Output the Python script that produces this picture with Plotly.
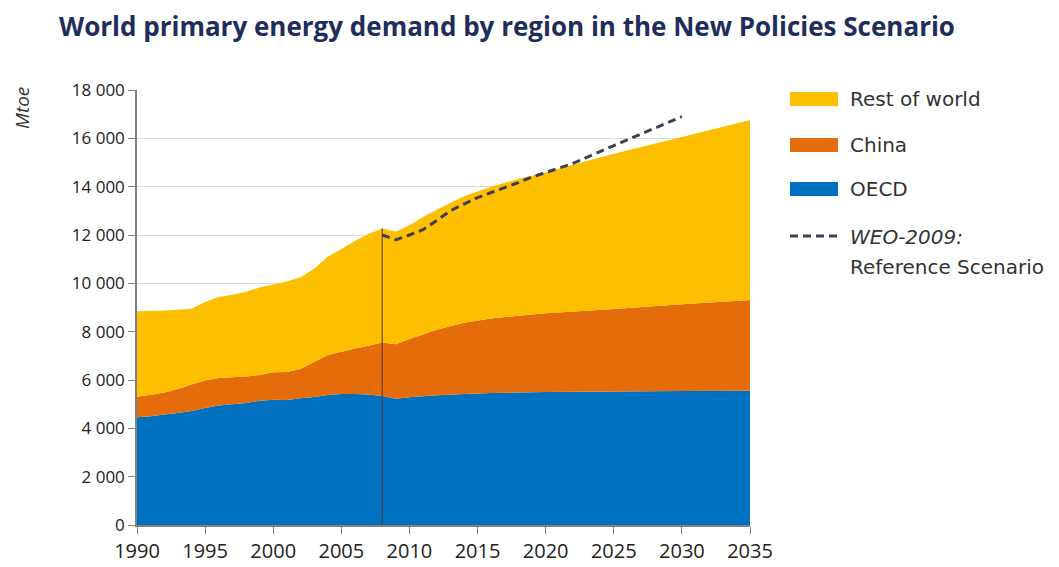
import plotly.graph_objects as go

# ---- data (Mtoe) ----
years = [1990, 1991, 1992, 1993, 1994, 1995, 1996, 1997, 1998, 1999,
         2000, 2001, 2002, 2003, 2004, 2005, 2006, 2007, 2008, 2009,
         2010, 2011, 2012, 2014, 2016, 2018, 2020, 2025, 2030, 2035]
oecd = [4460, 4500, 4570, 4630, 4720, 4840, 4950, 5000, 5050, 5140,
        5180, 5170, 5240, 5300, 5380, 5420, 5420, 5400, 5340, 5220,
        5290, 5330, 5370, 5420, 5460, 5480, 5500, 5520, 5540, 5560]
china = [850, 890, 910, 1000, 1090, 1140, 1130, 1110, 1090, 1070,
         1140, 1160, 1220, 1450, 1650, 1750, 1880, 2020, 2210, 2260,
         2410, 2550, 2710, 2950, 3090, 3180, 3260, 3420, 3590, 3750]
rest_of_world = [3540, 3470, 3400, 3280, 3140, 3250, 3350, 3420, 3510, 3620,
                 3630, 3750, 3790, 3850, 4070, 4250, 4450, 4630, 4720, 4670,
                 4700, 4870, 4970, 5230, 5450, 5660, 5840, 6420, 6930, 7450]

weo_years = [2008, 2009, 2010, 2011, 2012, 2013, 2014, 2015, 2016, 2017,
             2018, 2019, 2020, 2022, 2025, 2030]
weo_2009 = [12000, 11800, 12000, 12220, 12600, 13000, 13280, 13550, 13760, 13950,
            14170, 14400, 14580, 14960, 15700, 16900]

y_ticks = [0, 2000, 4000, 6000, 8000, 10000, 12000, 14000, 16000, 18000]
y_tick_labels = ["0", "2 000", "4 000", "6 000", "8 000", "10 000",
                 "12 000", "14 000", "16 000", "18 000"]
x_ticks = [1990, 1995, 2000, 2005, 2010, 2015, 2020, 2025, 2030, 2035]

C_ROW = "#FDBF00"
C_CHINA = "#E46C0A"
C_OECD = "#0070C0"
C_DASH = "#3F3F55"
FONT = "Open Sans"
LEG_FONT = "DejaVu Sans"

# page layout (page has an 8px body margin)
OFF = 8
W, H = 1059 - OFF, 567 - OFF
PL, PR, PT, PB = 137, 750, 90, 525   # plot area in page pixels


def px(x):  # page x -> paper x
    return (x - PL) / (PR - PL)


def py(y):  # page y -> paper y
    return (PB - y) / (PB - PT)


fig = go.Figure()
fig.add_trace(go.Scatter(x=years, y=oecd, name="OECD", stackgroup="one",
                         mode="none", fillcolor=C_OECD))
fig.add_trace(go.Scatter(x=years, y=china, name="China", stackgroup="one",
                         mode="none", fillcolor=C_CHINA))
fig.add_trace(go.Scatter(x=years, y=rest_of_world, name="Rest of world",
                         stackgroup="one", mode="none", fillcolor=C_ROW))
fig.add_trace(go.Scatter(x=weo_years, y=weo_2009, name="WEO-2009: Reference Scenario",
                         mode="lines", line=dict(color=C_DASH, width=3, dash="8px,5px")))

# vertical divider at base year 2008
i08 = years.index(2008)
top08 = oecd[i08] + china[i08] + rest_of_world[i08]
shapes = [dict(type="line", xref="x", yref="y", x0=2008, x1=2008, y0=0, y1=top08,
               line=dict(color="#4A3A2A", width=1), layer="above")]

# custom legend
legend_items = [("Rest of world", C_ROW, 99), ("China", C_CHINA, 145), ("OECD", C_OECD, 189)]
annotations = []
LEG_SIZE = 20
for label, col, yy in legend_items:
    shapes.append(dict(type="rect", xref="paper", yref="paper",
                       x0=px(790), x1=px(838), y0=py(yy + 7), y1=py(yy - 7),
                       fillcolor=col, line=dict(width=0)))
    annotations.append(dict(xref="paper", yref="paper", x=px(848), y=py(yy),
                            text=label, showarrow=False, xanchor="left", yanchor="middle",
                            font=dict(family=LEG_FONT, size=LEG_SIZE, color="#333333")))
shapes.append(dict(type="line", xref="paper", yref="paper", x0=px(790), x1=px(838),
                   y0=py(236), y1=py(236),
                   line=dict(color=C_DASH, width=3, dash="8px,5px")))
annotations.append(dict(xref="paper", yref="paper", x=px(848), y=py(237),
                        text="<i>WEO-2009:</i>", showarrow=False, xanchor="left",
                        yanchor="middle", font=dict(family=LEG_FONT, size=LEG_SIZE, color="#333333")))
annotations.append(dict(xref="paper", yref="paper", x=px(848), y=py(267),
                        text="Reference Scenario", showarrow=False, xanchor="left",
                        yanchor="middle", font=dict(family=LEG_FONT, size=LEG_SIZE, color="#333333")))
annotations.append(dict(xref="paper", yref="paper", x=px(22), y=py(108),
                        text="<i>Mtoe</i>", showarrow=False, textangle=-90,
                        xanchor="center", yanchor="middle",
                        font=dict(family=FONT, size=19, color="#333333")))

fig.update_layout(
    width=W, height=H,
    margin=dict(l=PL - OFF, r=W - (PR - OFF), t=PT - OFF, b=H - (PB - OFF), autoexpand=False),
    paper_bgcolor="white", plot_bgcolor="white",
    showlegend=False,
    title=dict(text="World primary energy demand by region in the New Policies Scenario",
               x=(507 - OFF) / W, xanchor="center", y=1 - (27 - OFF) / H, yanchor="middle",
               font=dict(family=FONT, size=26, color="#1F2D5C", weight=700)),
    shapes=shapes, annotations=annotations,
    xaxis=dict(range=[1990, 2035], tickvals=x_ticks, showgrid=False,
               showline=True, linecolor="#808080", linewidth=1.5,
               ticks="outside", ticklen=7, tickcolor="#808080",
               tickfont=dict(family=FONT, size=20, color="#222222"), zeroline=False),
    yaxis=dict(range=[0, 18000], tickvals=y_ticks, ticktext=y_tick_labels,
               showgrid=True, gridcolor="#DCDCDC", gridwidth=1,
               showline=True, linecolor="#808080", linewidth=1.5,
               ticks="outside", ticklen=7, tickcolor="#808080",
               tickfont=dict(family=FONT, size=17, color="#222222"), zeroline=False),
)

fig.write_html("out.html")
